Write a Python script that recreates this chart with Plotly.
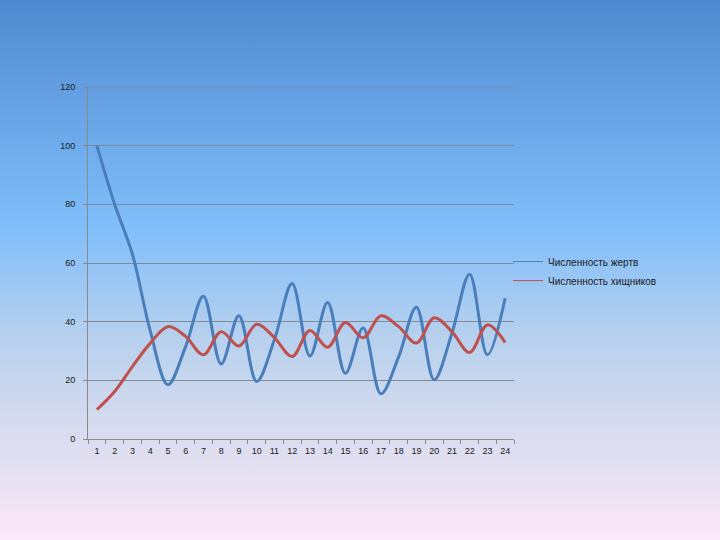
import base64
import plotly.graph_objects as go

steps = list(range(1, 25))
prey = [100, 80, 63, 37, 18.5, 31.5, 48.7, 25.6, 42, 19.6, 33.8, 53, 28.3, 46.5,
        22.4, 37.8, 15.4, 28, 44.9, 20.2, 36, 56.2, 28.7, 48]
predators = [10, 16.2, 24.7, 32.6, 38.3, 35, 28.7, 36.6, 31.7, 39.1, 34.6, 28.1, 37,
             31.3, 39.7, 34.5, 42, 38.3, 32.7, 41.3, 36.6, 29.5, 38.9, 32.9]
names = ["Численность жертв", "Численность хищников"]
colors = ["#4A7EBB", "#C0504D"]
y_ticks = [0, 20, 40, 60, 80, 100, 120]

svg = (
    '<svg xmlns="http://www.w3.org/2000/svg" width="720" height="540" preserveAspectRatio="none">'
    '<defs><linearGradient id="g" x1="0" y1="0" x2="0" y2="1">'
    '<stop offset="0" stop-color="#4F8AD0"/>'
    '<stop offset="0.42" stop-color="#80BEFB"/>'
    '<stop offset="0.62" stop-color="#B6D0EE"/>'
    '<stop offset="0.80" stop-color="#D8DCEE"/>'
    '<stop offset="1" stop-color="#FCE8F8"/>'
    '</linearGradient></defs>'
    '<rect x="0" y="0" width="720" height="540" fill="url(#g)"/></svg>'
)
bg = "data:image/svg+xml;base64," + base64.b64encode(svg.encode()).decode()

fig = go.Figure()
for name, vals, col in zip(names, [prey, predators], colors):
    fig.add_trace(go.Scatter(
        x=steps, y=vals, name=name, mode="lines", showlegend=False,
        line=dict(color=col, width=3, shape="spline", smoothing=1.0),
    ))
# thin legend entries
for name, col in zip(names, colors):
    fig.add_trace(go.Scatter(
        x=[None], y=[None], name=name, mode="lines",
        line=dict(color=col, width=1),
    ))

# invisible trace on second x axis for category labels
fig.add_trace(go.Scatter(x=steps, y=[None] * len(steps), xaxis="x2",
                         showlegend=False, hoverinfo="skip"))

font = dict(family="Liberation Sans, DejaVu Sans, sans-serif", size=9, color="#1a1a1a")
lfont = dict(family="Liberation Sans, DejaVu Sans, sans-serif", size=10, color="#1a1a1a")

fig.update_layout(
    width=720, height=540,
    margin=dict(l=88, r=206, t=87, b=101),
    paper_bgcolor="rgba(0,0,0,0)",
    plot_bgcolor="rgba(0,0,0,0)",
    font=font,
    images=[dict(source=bg, xref="paper", yref="paper",
                 x=-88 / 426, y=1 + 87 / 352,
                 sizex=720 / 426, sizey=540 / 352,
                 xanchor="left", yanchor="top",
                 sizing="stretch", layer="below")],
    shapes=[dict(type="line", xref="paper", yref="y", x0=0, x1=1,
                 y0=max(y_ticks), y1=max(y_ticks),
                 line=dict(color="#7f8a99", width=1), layer="above")],
    xaxis=dict(
        range=[0.5, 24.5],
        tickvals=[i + 0.5 for i in range(0, 25)],
        ticktext=[""] * 25,
        ticks="outside", ticklen=4, tickcolor="#8a8a8a",
        showgrid=False, zeroline=False,
        showline=True, linecolor="#8a8a8a", linewidth=1,
    ),
    xaxis2=dict(
        range=[0.5, 24.5], overlaying="x", side="bottom",
        tickvals=steps, ticktext=[str(s) for s in steps],
        ticks="", showgrid=False, zeroline=False, showline=False,
        tickfont=font, ticklabelstandoff=5,
    ),
    yaxis=dict(
        range=[0, 120], tickvals=y_ticks,
        ticks="outside", ticklen=4, tickcolor="#8a8a8a",
        showgrid=True, gridcolor="#7f8a99", gridwidth=1,
        zeroline=False, showline=True, linecolor="#8a8a8a", linewidth=1,
        ticklabelstandoff=6,
    ),
    legend=dict(
        x=0.986, y=0.477, xanchor="left", yanchor="middle",
        bgcolor="rgba(0,0,0,0)", font=lfont,
        itemwidth=30,
    ),
    showlegend=True,
)

fig.write_html("out.html", config={"displayModeBar": False},
               post_script="document.body.style.margin='0';")
